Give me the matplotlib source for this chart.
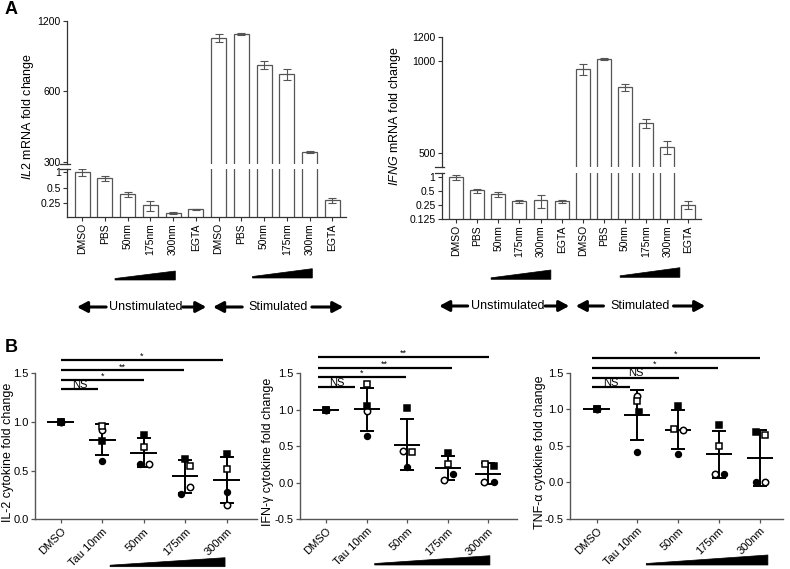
import numpy as np
import matplotlib
matplotlib.use('Agg')
import matplotlib.pyplot as plt
from matplotlib import transforms
from matplotlib.ticker import NullLocator
from matplotlib.patches import Polygon

plt.rcParams['font.family'] = ['Liberation Sans', 'DejaVu Sans']
plt.rcParams['mathtext.fontset'] = 'custom'
plt.rcParams['mathtext.rm'] = 'Liberation Sans'
plt.rcParams['mathtext.it'] = 'Liberation Sans:italic'

W, H = 790, 569

# ---------------------------------------------------------------
# data: panel A (mRNA fold change, mean +/- error)
# ---------------------------------------------------------------
a_labels = ['DMSO', 'PBS', '50nm', '175nm', '300nm', 'EGTA'] * 2
il2_mrna = [0.98, 0.75, 0.37, 0.225, 0.16, 0.19, 1013, 1052, 779, 710, 331, 0.28]
il2_err = [0.15, 0.09, 0.04, 0.05, 0.008, 0.003, 38, 11, 29, 37, 3, 0.03]
ifng_mrna = [0.97, 0.51, 0.42, 0.30, 0.31, 0.30, 940, 1015, 820, 626, 523, 0.25]
ifng_err = [0.11, 0.05, 0.055, 0.025, 0.1, 0.02, 38, 9, 23, 20, 26, 0.05]

# ---------------------------------------------------------------
# data: panel B (cytokine fold change, one value per donor)
# ---------------------------------------------------------------
b_labels = ['DMSO', 'Tau 10nm', '50nm', '175nm', '300nm']

il2_fsq = [1.0, 0.80, 0.865, 0.622, 0.667]
il2_osq = [1.0, 0.957, 0.742, 0.547, 0.516]
il2_fci = [1.0, 0.598, 0.564, 0.263, 0.28]
il2_oci = [1.0, 0.916, 0.57, 0.331, 0.144]

ifn_fsq = [1.0, 1.054, 1.018, 0.407, 0.233]
ifn_osq = [1.0, 1.352, 0.417, 0.252, 0.256]
ifn_fci = [1.0, 0.637, 0.215, 0.114, 0.002]
ifn_oci = [1.0, 0.98, 0.43, 0.041, 0.004]

tnf_fsq = [1.0, 0.962, 1.044, 0.783, 0.682]
tnf_osq = [1.0, 1.117, 0.728, 0.499, 0.645]
tnf_fci = [1.0, 0.416, 0.389, 0.119, 0.0]
tnf_oci = [1.0, 1.18, 0.714, 0.119, 0.0]

# significance: (end group position, height, label)
il2_sig = [(0.9, 1.336, 'NS'), (2.0, 1.436, '*'), (2.98, 1.53, '**'), (3.92, 1.634, '*')]
ifn_sig = [(0.71, 1.315, 'NS'), (1.96, 1.444, '*'), (3.1, 1.576, '**'), (4.02, 1.72, '**')]
tnf_sig = [(0.81, 1.30, 'NS'), (2.02, 1.433, 'NS'), (2.97, 1.57, '*'), (4.0, 1.70, '*')]

fig = plt.figure(figsize=(W / 100, H / 100), dpi=100)


def px_box(x0, y0, x1, y1):
    return [x0 / W, 1 - y1 / H, (x1 - x0) / W, (y1 - y0) / H]


def fy(y):
    return 1 - y / H


AX_COL = '#333333'
BAR_COL = '#555555'


def wedge(ax, xa, xb, y_bot, y_top):
    blend = transforms.blended_transform_factory(ax.transData, fig.transFigure)
    fig.add_artist(Polygon([(xa, fy(y_bot)), (xb, fy(y_bot)), (xb, fy(y_top)), (xa, fy(y_bot - 1.5))],
                           closed=True, transform=blend, facecolor='black', edgecolor='black', lw=0.5))


def arrow_row(ax, y, parts):
    blend = transforms.blended_transform_factory(ax.transData, fig.transFigure)
    for head_l, tail_l, txt_x, tail_r, head_r, txt in parts:
        for head, tail in ((head_l, tail_l), (head_r, tail_r)):
            ax.annotate('', xy=(head, fy(y)), xytext=(tail, fy(y)), xycoords=blend, textcoords=blend,
                        arrowprops=dict(arrowstyle='-|>,head_length=0.6,head_width=0.32', lw=2.2,
                                        color='black', mutation_scale=10, shrinkA=0, shrinkB=0),
                        annotation_clip=False)
        ax.text(txt_x, fy(y), txt, transform=blend, ha='center', va='center', fontsize=9)


def broken_panel(x0, x1, ys, top_lim, bot_lim, top_ticks, bot_ticks, vals, errs, xlim, ylabel, lab_x):
    y_top, y_m1, y_m2, y_bot = ys
    ax_t = fig.add_axes(px_box(x0, y_top, x1, y_m1))
    ax_b = fig.add_axes(px_box(x0, y_m2, x1, y_bot))
    x = np.arange(len(vals))
    for ax in (ax_t, ax_b):
        ax.set_yscale('log', base=2)
        ax.bar(x, vals, width=0.66, bottom=1e-3, color='white', edgecolor=BAR_COL, lw=0.9)
        ax.errorbar(x, vals, yerr=errs, fmt='none', ecolor=BAR_COL, elinewidth=0.8,
                    capsize=3, capthick=0.8)
        ax.set_xlim(*xlim)
        ax.spines['top'].set_visible(False)
        ax.spines['right'].set_visible(False)
        for s in ('left', 'bottom'):
            ax.spines[s].set_color(AX_COL)
            ax.spines[s].set_linewidth(0.9)
        ax.tick_params(labelsize=7.5, length=3, width=0.8, color=AX_COL, pad=1.5)
    ax_t.set_ylim(*top_lim)
    ax_b.set_ylim(*bot_lim)
    ax_t.spines['bottom'].set_visible(False)
    ax_t.tick_params(axis='x', bottom=False, labelbottom=False)
    ax_t.set_yticks(top_ticks)
    ax_t.set_yticklabels([str(t) for t in top_ticks])
    ax_b.set_yticks(bot_ticks)
    ax_b.set_yticklabels([f'{t:g}' for t in bot_ticks])
    ax_b.yaxis.set_minor_locator(NullLocator())
    ax_t.yaxis.set_minor_locator(NullLocator())
    ax_b.set_xticks(x)
    ax_b.set_xticklabels(a_labels, rotation=90, fontsize=7.5)
    # break marks
    ax_t.plot([-0.025, 0.01], [0, 0], transform=ax_t.transAxes, color=AX_COL, lw=0.9, clip_on=False)
    ax_b.plot([-0.025, 0.01], [1, 1], transform=ax_b.transAxes, color=AX_COL, lw=0.9, clip_on=False)
    fig.text(lab_x / W, fy(116), ylabel, rotation=90, ha='center', va='center', fontsize=9)
    return ax_b


# ---------------------------------------------------------------
# panel A
# ---------------------------------------------------------------
axA1 = broken_panel(67, 346, (21, 164, 168.5, 217), (294, 1200), (0.134, 1.17),
                    [300, 600, 1200], [0.25, 0.5, 1], il2_mrna, il2_err, (-0.66, 11.6),
                    r'$\mathit{IL2}$ mRNA fold change', 28)
wedge(axA1, 1.45, 4.1, 280, 271)
wedge(axA1, 7.49, 10.12, 278, 268.7)
arrow_row(axA1, 307, [(-0.22, 1.06, 2.82, 4.43, 5.46, 'Unstimulated'),
                      (5.76, 7.04, 8.61, 10.1, 11.48, 'Stimulated')])

axA2 = broken_panel(441.7, 701, (36.7, 166.7, 172.7, 219), (452, 1200), (0.125, 1.22),
                    [500, 1000, 1200], [0.125, 0.25, 0.5, 1], ifng_mrna, ifng_err, (-0.68, 11.6),
                    r'$\mathit{IFNG}$ mRNA fold change', 395)
wedge(axA2, 1.66, 4.49, 279.3, 270)
wedge(axA2, 7.77, 10.6, 277.3, 267.7)
arrow_row(axA2, 306, [(-0.8, 0.55, 2.46, 4.22, 5.36, 'Unstimulated'),
                      (5.67, 6.98, 8.71, 10.3, 11.8, 'Stimulated')])

fig.text(5 / W, fy(9), 'A', fontsize=13, fontweight='bold', va='center', ha='left')
fig.text(5 / W, fy(347), 'B', fontsize=13, fontweight='bold', va='center', ha='left')


# ---------------------------------------------------------------
# panel B
# ---------------------------------------------------------------
def scatter_panel(box, xlim, ylim, yticks, donors, jitter, sig, sig_start, wedge_x, ylabel, lab_x):
    ax = fig.add_axes(px_box(*box))
    x = np.arange(len(b_labels))
    arr = np.array(donors)
    mean = arr.mean(axis=0)
    sd = arr.std(axis=0, ddof=1)
    ax.hlines(mean, x - 0.32, x + 0.32, color='black', lw=1.4, zorder=3)
    ax.errorbar(x[1:], mean[1:], yerr=sd[1:], fmt='none', ecolor='black', elinewidth=1.4,
                capsize=5, capthick=1.4, zorder=3)
    styles = [('s', 'black', 3.8), ('s', 'white', 4.2), ('o', 'black', 4.2), ('o', 'white', 4.6)]
    for k in (3, 2, 1, 0):
        mk, face, ms = styles[k]
        ax.plot(x + np.array(jitter[k]), arr[k], ls='none', marker=mk, ms=ms, mfc=face,
                mec='black', mew=1.1, zorder=4, clip_on=False)
    for end, h, lab in sig:
        ax.plot([sig_start, end], [h, h], color='black', lw=1.6, clip_on=False, solid_capstyle='butt')
        ax.text((sig_start + end) / 2, h - 0.01, lab, ha='center', va='bottom',
                fontsize=8 if lab == 'NS' else 6.5)
    ax.set_xlim(*xlim)
    ax.set_ylim(*ylim)
    ax.set_yticks(yticks)
    ax.set_yticklabels([f'{t:.1f}' for t in yticks])
    ax.set_xticks(x)
    ax.set_xticklabels(b_labels, rotation=45, ha='right', va='top', rotation_mode='anchor', fontsize=8)
    ax.spines['top'].set_visible(False)
    ax.spines['right'].set_visible(False)
    for s in ('left', 'bottom'):
        ax.spines[s].set_color('#555555')
        ax.spines[s].set_linewidth(1.0)
    ax.tick_params(axis='y', labelsize=8, length=3, width=0.9, color='#555555', pad=1.5)
    ax.tick_params(axis='x', length=3, width=0.9, color='#555555', pad=2)
    fig.text(lab_x / W, fy(452), ylabel, rotation=90, ha='center', va='center', fontsize=9)
    wedge(ax, wedge_x[0], wedge_x[1], wedge_x[2], wedge_x[3])
    return ax


zero = [0, 0, 0, 0, 0]
scatter_panel((35, 373.3, 257, 519.3), (-0.62, 4.73), (0, 1.5), [0.0, 0.5, 1.0, 1.5],
              [il2_fsq, il2_osq, il2_fci, il2_oci],
              [zero, [0, 0, 0, 0.12, 0], [0, 0, -0.1, -0.1, 0], [0, 0, 0.12, 0.12, 0]],
              il2_sig, 0.0, (1.19, 3.96, 566.7, 557.7), 'IL-2 cytokine fold change', 8)

scatter_panel((300, 373.3, 516.7, 519), (-0.64, 4.7), (-0.5, 1.5), [-0.5, 0.0, 0.5, 1.0, 1.5],
              [ifn_fsq, ifn_osq, ifn_fci, ifn_oci],
              [[0, 0, 0, 0, 0.13], [0, 0, 0.13, 0, -0.08], [0, 0, 0, 0.12, 0.13], [0, 0, -0.1, -0.1, -0.1]],
              ifn_sig, -0.2, (1.2, 4.04, 565, 555.7), 'IFN-\u03b3 cytokine fold change', 268)

scatter_panel((570, 372.7, 783, 518.7), (-0.65, 4.57), (-0.5, 1.5), [-0.5, 0.0, 0.5, 1.0, 1.5],
              [tnf_fsq, tnf_osq, tnf_fci, tnf_oci],
              [[0, 0.03, 0, 0, -0.1], [0, 0, -0.1, 0, 0.14], [0, 0, 0, 0.12, -0.08], [0, 0, 0.12, -0.1, 0.14]],
              tnf_sig, -0.11, (1.22, 4.2, 565, 555), 'TNF-\u03b1 cytokine fold change', 540)

fig.savefig('out.png', dpi=100)
